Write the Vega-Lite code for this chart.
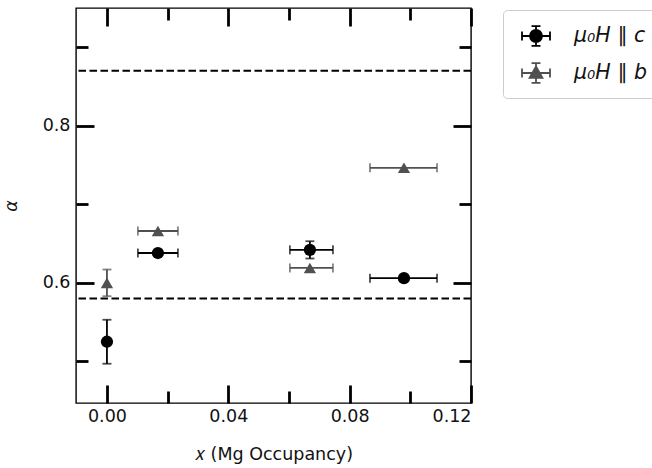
{
  "$schema": "https://vega.github.io/schema/vega-lite/v6.json",
  "autosize": "none",
  "width": 395,
  "height": 395,
  "padding": {"left": 76, "top": 8, "right": 181, "bottom": 65},
  "background": "white",
  "config": {
    "view": {"stroke": "black", "strokeWidth": 1.4},
    "font": "DejaVu Sans",
    "axis": {
      "domain": false,
      "grid": false,
      "labelFont": "DejaVu Sans",
      "labelFontSize": 17.5,
      "labelColor": "#111111",
      "titleFont": "DejaVu Sans",
      "titleFontSize": 17.5,
      "titleFontWeight": "normal",
      "titleColor": "#111111",
      "tickColor": "black",
      "tickWidth": 2.8
    }
  },
  "datasets": {
    "pts": [
      {"s": "c", "x": 0.0, "y": 0.525, "xlo": null, "xhi": null, "ylo": 0.497, "yhi": 0.553},
      {"s": "c", "x": 0.0168, "y": 0.638, "xlo": 0.0102, "xhi": 0.0234, "ylo": null, "yhi": null},
      {"s": "c", "x": 0.0669, "y": 0.642, "xlo": 0.0603, "xhi": 0.0745, "ylo": 0.631, "yhi": 0.653},
      {"s": "c", "x": 0.0979, "y": 0.606, "xlo": 0.0867, "xhi": 0.1088, "ylo": null, "yhi": null},
      {"s": "b", "x": 0.0, "y": 0.6, "xlo": null, "xhi": null, "ylo": 0.583, "yhi": 0.617},
      {"s": "b", "x": 0.0168, "y": 0.666, "xlo": 0.0102, "xhi": 0.0234, "ylo": null, "yhi": null},
      {"s": "b", "x": 0.0669, "y": 0.619, "xlo": 0.0603, "xhi": 0.0745, "ylo": null, "yhi": null},
      {"s": "b", "x": 0.0979, "y": 0.7465, "xlo": 0.0867, "xhi": 0.1088, "ylo": null, "yhi": null}
    ],
    "refs": [{"h": 0.87}, {"h": 0.58}]
  },
  "resolve": {"axis": {"x": "independent", "y": "independent"}},
  "layer": [
    {
      "data": {"name": "refs"},
      "mark": {"type": "rule", "strokeDash": [7.5, 3.5], "strokeWidth": 2, "color": "black"},
      "encoding": {
        "y": {
          "field": "h", "type": "quantitative",
          "scale": {"domain": [0.447, 0.95], "nice": false, "zero": false},
          "axis": {
            "orient": "left",
            "title": "α",
            "titleFontStyle": "italic",
            "titlePadding": 22,
            "values": [0.5, 0.6, 0.7, 0.8, 0.9],
            "labelExpr": "round(datum.value*10) % 2 == 0 ? format(datum.value, '.1f') : ''",
            "labelPadding": 24,
            "tickSize": {"condition": {"test": "round(datum.value*10) % 2 == 0", "value": -18}, "value": -12}
          }
        }
      }
    },
    {
      "data": {"name": "pts"},
      "transform": [{"filter": "isValid(datum.ylo)"}],
      "mark": {"type": "rule", "strokeWidth": 1.8},
      "encoding": {
        "x": {
          "field": "x", "type": "quantitative",
          "scale": {"domain": [-0.0102, 0.12], "nice": false, "zero": false},
          "axis": {
            "orient": "top",
            "title": null,
            "labels": false,
            "values": [0, 0.02, 0.04, 0.06, 0.08, 0.1, 0.12],
            "tickSize": {"condition": {"test": "abs(datum.value*25 - round(datum.value*25)) < 0.001", "value": -18}, "value": -12}
          }
        },
        "y": {"field": "ylo", "type": "quantitative", "scale": {"domain": [0.447, 0.95], "nice": false, "zero": false}, "axis": null},
        "y2": {"field": "yhi"},
        "color": {"condition": {"test": "datum.s == 'c'", "value": "#000000"}, "value": "#505050"}
      }
    },
    {
      "data": {"name": "pts"},
      "transform": [{"filter": "isValid(datum.ylo)"}],
      "mark": {"type": "tick", "orient": "horizontal", "size": 9, "thickness": 1.8},
      "encoding": {
        "x": {"field": "x", "type": "quantitative", "scale": {"domain": [-0.0102, 0.12], "nice": false, "zero": false}, "axis": null},
        "y": {"field": "ylo", "type": "quantitative", "scale": {"domain": [0.447, 0.95], "nice": false, "zero": false}, "axis": null},
        "color": {"condition": {"test": "datum.s == 'c'", "value": "#000000"}, "value": "#505050"}
      }
    },
    {
      "data": {"name": "pts"},
      "transform": [{"filter": "isValid(datum.yhi)"}],
      "mark": {"type": "tick", "orient": "horizontal", "size": 9, "thickness": 1.8},
      "encoding": {
        "x": {"field": "x", "type": "quantitative", "scale": {"domain": [-0.0102, 0.12], "nice": false, "zero": false}, "axis": null},
        "y": {"field": "yhi", "type": "quantitative", "scale": {"domain": [0.447, 0.95], "nice": false, "zero": false}, "axis": null},
        "color": {"condition": {"test": "datum.s == 'c'", "value": "#000000"}, "value": "#505050"}
      }
    },
    {
      "data": {"name": "pts"},
      "transform": [{"filter": "isValid(datum.xlo)"}],
      "mark": {"type": "rule", "strokeWidth": 1.8},
      "encoding": {
        "x": {"field": "xlo", "type": "quantitative", "scale": {"domain": [-0.0102, 0.12], "nice": false, "zero": false}, "axis": null},
        "x2": {"field": "xhi"},
        "y": {"field": "y", "type": "quantitative", "scale": {"domain": [0.447, 0.95], "nice": false, "zero": false}, "axis": null},
        "color": {"condition": {"test": "datum.s == 'c'", "value": "#000000"}, "value": "#505050"}
      }
    },
    {
      "data": {"name": "pts"},
      "transform": [{"filter": "isValid(datum.xlo)"}],
      "mark": {"type": "tick", "orient": "vertical", "size": 9, "thickness": 1.8},
      "encoding": {
        "x": {"field": "xlo", "type": "quantitative", "scale": {"domain": [-0.0102, 0.12], "nice": false, "zero": false}, "axis": null},
        "y": {"field": "y", "type": "quantitative", "scale": {"domain": [0.447, 0.95], "nice": false, "zero": false}, "axis": null},
        "color": {"condition": {"test": "datum.s == 'c'", "value": "#000000"}, "value": "#505050"}
      }
    },
    {
      "data": {"name": "pts"},
      "transform": [{"filter": "isValid(datum.xhi)"}],
      "mark": {"type": "tick", "orient": "vertical", "size": 9, "thickness": 1.8},
      "encoding": {
        "x": {"field": "xhi", "type": "quantitative", "scale": {"domain": [-0.0102, 0.12], "nice": false, "zero": false}, "axis": null},
        "y": {"field": "y", "type": "quantitative", "scale": {"domain": [0.447, 0.95], "nice": false, "zero": false}, "axis": null},
        "color": {"condition": {"test": "datum.s == 'c'", "value": "#000000"}, "value": "#505050"}
      }
    },
    {
      "data": {"name": "pts"},
      "transform": [{"filter": "datum.s == 'b'"}],
      "mark": {"type": "point", "filled": true, "opacity": 1, "shape": "triangle-up", "size": 150, "color": "#505050"},
      "encoding": {
        "x": {"field": "x", "type": "quantitative", "scale": {"domain": [-0.0102, 0.12], "nice": false, "zero": false}, "axis": null},
        "y": {"field": "y", "type": "quantitative", "scale": {"domain": [0.447, 0.95], "nice": false, "zero": false}, "axis": null}
      }
    },
    {
      "data": {"name": "pts"},
      "transform": [{"filter": "datum.s == 'c'"}],
      "mark": {"type": "point", "filled": true, "opacity": 1, "shape": "circle", "size": 150},
      "encoding": {
        "x": {
          "field": "x", "type": "quantitative",
          "scale": {"domain": [-0.0102, 0.12], "nice": false, "zero": false},
          "axis": {
            "orient": "bottom",
            "title": "𝑥 (Mg Occupancy)",
            "titlePadding": 21,
            "values": [0, 0.02, 0.04, 0.06, 0.08, 0.1, 0.12],
            "labelExpr": "abs(datum.value*25 - round(datum.value*25)) < 0.001 ? format(datum.value, '.2f') : ''",
            "labelPadding": 22,
            "tickSize": {"condition": {"test": "abs(datum.value*25 - round(datum.value*25)) < 0.001", "value": -18}, "value": -12}
          }
        },
        "y": {
          "field": "y", "type": "quantitative",
          "scale": {"domain": [0.447, 0.95], "nice": false, "zero": false},
          "axis": {
            "orient": "right",
            "title": null,
            "labels": false,
            "values": [0.5, 0.6, 0.7, 0.8, 0.9],
            "tickSize": {"condition": {"test": "round(datum.value*10) % 2 == 0", "value": -18}, "value": -12}
          }
        },
        "color": {
          "field": "s", "type": "nominal",
          "scale": {"domain": ["c", "b"], "range": ["#000000", "#505050"]},
          "legend": {
            "title": null,
            "orient": "none",
            "legendX": 427,
            "legendY": 2,
            "padding": 11,
            "strokeColor": "#cccccc",
            "fillColor": "white",
            "cornerRadius": 4,
            "symbolSize": 784,
            "symbolStrokeWidth": 1.8,
            "symbolStrokeColor": "#000000",
            "symbolOpacity": 1,
            "symbolType": {"expr": "datum.value == 'c' ? 'M0.07,0A0.43,0.43 0 1,0 0.93,0A0.43,0.43 0 1,0 0.07,0Z M-0.5,0L1.5,0 M0.5,-0.71L0.5,0.71 M-0.5,-0.32L-0.5,0.32 M1.5,-0.32L1.5,0.32 M0.18,-0.71L0.82,-0.71 M0.18,0.71L0.82,0.71' : 'M0.5,-0.46L0.96,0.34L0.04,0.34Z M-0.5,0L1.5,0 M0.5,-0.71L0.5,0.71 M-0.5,-0.32L-0.5,0.32 M1.5,-0.32L1.5,0.32 M0.18,-0.71L0.82,-0.71 M0.18,0.71L0.82,0.71'"},
            "rowPadding": 8,
            "labelOffset": 30,
            "labelFont": "DejaVu Sans",
            "labelFontSize": 20.5,
            "labelFontStyle": "italic",
            "labelColor": "#111111",
            "labelExpr": "datum.value == 'c' ? 'μ₀H ∥ c' : 'μ₀H ∥ b'",
            "encode": {
              "symbols": {
                "update": {
                  "stroke": {"signal": "datum.value == 'c' ? '#000000' : '#505050'"},
                  "fill": {"signal": "datum.value == 'c' ? '#000000' : '#505050'"},
                  "opacity": {"value": 1},
                  "fillOpacity": {"value": 1},
                  "strokeOpacity": {"value": 1}
                }
              }
            }
          }
        }
      }
    }
  ]
}
